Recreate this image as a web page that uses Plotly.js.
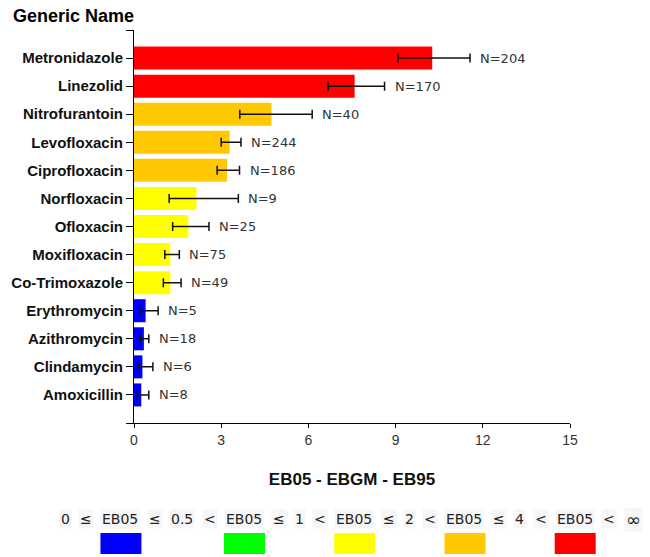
<!DOCTYPE html>
<html>
<head>
<meta charset="utf-8">
<script src="https://cdn.plot.ly/plotly-3.0.1.min.js"></script>
<style>
  html, body { margin: 0; padding: 0; background: #fff; }
  #chart { width: 650px; height: 557px; }
</style>
</head>
<body>
<div id="chart"></div>
<script>
// ---- Data ----
const drugNames = ['Metronidazole','Linezolid','Nitrofurantoin','Levofloxacin','Ciprofloxacin','Norfloxacin','Ofloxacin','Moxifloxacin','Co-Trimoxazole','Erythromycin','Azithromycin','Clindamycin','Amoxicillin'];
const ebgm = [10.26, 7.59, 4.73, 3.29, 3.20, 2.15, 1.87, 1.25, 1.25, 0.40, 0.34, 0.29, 0.25];
const eb05 = [9.08, 6.68, 3.64, 3.00, 2.86, 1.21, 1.33, 1.06, 1.01, 0.20, 0.22, 0.13, 0.11];
const eb95 = [11.56, 8.62, 6.13, 3.68, 3.63, 3.59, 2.58, 1.56, 1.62, 0.83, 0.51, 0.65, 0.51];
const caseCounts = [204, 170, 40, 244, 186, 9, 25, 75, 49, 5, 18, 6, 8];
const xTickVals = [0, 3, 6, 9, 12, 15];

// EB05 bins for colouring (upper bounds) and legend text tokens
const binUpper = [0.5, 1, 2, 4, Infinity];
const binColors = ['#0000FF', '#00FF00', '#FFFF00', '#FFC800', '#FF0000'];
const legendTokens = ['0','≤','EB05','≤','0.5','<','EB05','≤','1','<','EB05','≤','2','<','EB05','≤','4','<','EB05','<','∞'];

// ---- Layout geometry ----
const W = 650, H = 557;
const M = { l: 134, r: 80, t: 30, b: 134 };
const PW = W - M.l - M.r, PH = H - M.t - M.b;
const pxToPaperX = px => (px - M.l) / PW;
const pxToPaperY = py => (H - M.b - py) / PH;

const idx = drugNames.map((_, i) => i);
const colorFor = v => binColors[binUpper.findIndex(u => v <= u)];

const barTrace = {
  type: 'bar',
  orientation: 'h',
  x: ebgm,
  y: idx,
  width: 0.82,
  marker: { color: eb05.map(colorFor), line: { width: 0 } },
  error_x: {
    type: 'data',
    symmetric: false,
    array: eb95.map((v, i) => v - ebgm[i]),
    arrayminus: ebgm.map((v, i) => v - eb05[i]),
    color: '#111',
    thickness: 1.5,
    width: 4.5
  },
  hoverinfo: 'skip',
  showlegend: false
};

const annotations = [];
// N= labels to the right of each EB95 whisker
caseCounts.forEach((n, i) => {
  annotations.push({
    x: eb95[i], y: i, xref: 'x', yref: 'y',
    xanchor: 'left', yanchor: 'middle', xshift: 8,
    text: 'N=' + n, showarrow: false,
    font: { family: 'DejaVu Sans, Verdana, sans-serif', size: 13, color: '#333' }
  });
});

// Colour key below the axis title: tokens laid out left to right
const keyFont = { family: 'DejaVu Sans, Verdana, sans-serif', size: 14, color: '#222' };
const ctx = document.createElement('canvas').getContext('2d');
ctx.font = keyFont.size + 'px "DejaVu Sans"';
const shapes = [];
let cursor = 59;
const gap = 10.4;
const textY = 519;
let binIdx = 0;
legendTokens.forEach((tok, i) => {
  const w = ctx.measureText(tok).width;
  const isInf = tok === '∞';
  annotations.push({
    x: pxToPaperX(cursor), y: pxToPaperY(textY), xref: 'paper', yref: 'paper',
    xanchor: 'left', yanchor: 'middle', text: tok, showarrow: false,
    font: isInf ? Object.assign({}, keyFont, { size: 18 }) : keyFont,
    bgcolor: '#f6f6f6', borderpad: 1
  });
  if (tok === 'EB05' && binIdx < binColors.length) {
    shapes.push({
      type: 'rect', xref: 'paper', yref: 'paper',
      x0: pxToPaperX(cursor), x1: pxToPaperX(cursor + 41),
      y0: pxToPaperY(554), y1: pxToPaperY(533),
      fillcolor: binColors[binIdx], line: { width: 0 }
    });
    binIdx++;
  }
  cursor += w + gap;
});

const layout = {
  width: W, height: H,
  margin: M,
  paper_bgcolor: '#fff', plot_bgcolor: '#fff',
  title: {
    text: '<b>Generic Name</b>',
    font: { family: 'Liberation Sans, Arial, sans-serif', size: 18, color: '#000' },
    xref: 'container', yref: 'container',
    x: 13 / W, xanchor: 'left',
    y: 1 - 16 / H, yanchor: 'middle'
  },
  xaxis: {
    range: [0, 15],
    tickmode: 'array', tickvals: xTickVals,
    ticks: 'outside', ticklen: 4, tickcolor: '#000', tickwidth: 1,
    showline: true, linecolor: '#000', linewidth: 1,
    showgrid: false, zeroline: false,
    tickfont: { family: 'Liberation Sans, Arial, sans-serif', size: 14, color: '#333' },
    title: {
      text: '<b>EB05 - EBGM - EB95</b>',
      font: { family: 'Liberation Sans, Arial, sans-serif', size: 17, color: '#111' },
      standoff: 26
    }
  },
  yaxis: {
    range: [13, -1],
    tickmode: 'array',
    tickvals: [-1, ...idx, drugNames.length],
    ticktext: ['', ...drugNames, ''],
    ticks: 'outside', ticklen: 7, tickcolor: '#000', tickwidth: 1,
    showline: true, linecolor: '#000', linewidth: 1,
    showgrid: false, zeroline: false,
    tickfont: { family: 'Liberation Sans, Arial, sans-serif', size: 15, color: '#111', weight: 'bold' }
  },
  annotations: annotations,
  shapes: shapes,
  bargap: 0.18
};

Plotly.newPlot('chart', [barTrace], layout, { staticPlot: true, displayModeBar: false });
</script>
</body>
</html>
